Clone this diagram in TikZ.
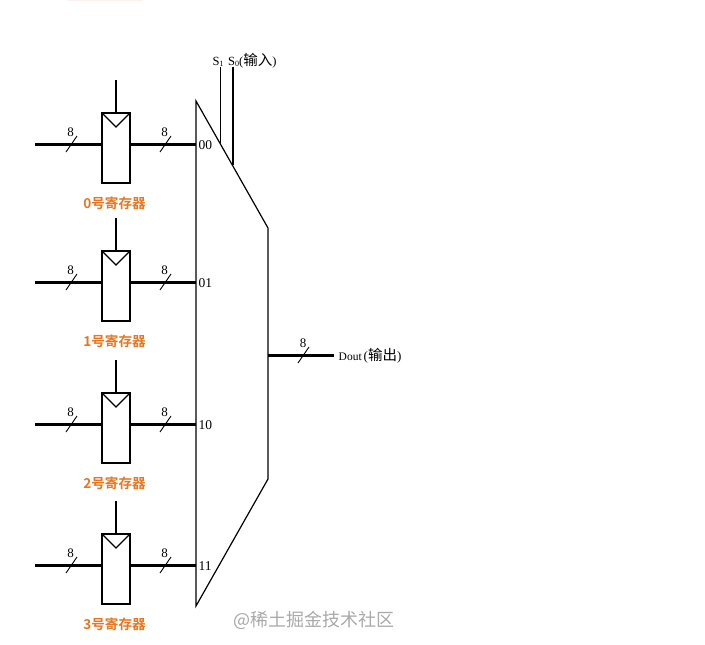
\documentclass[tikz,border=0pt]{standalone}
\usepackage{fontspec}
\setmainfont{Liberation Serif}
\newfontfamily\cjk{Noto Sans CJK SC}
\newfontfamily\cjkb{Noto Sans CJK SC Bold}
\definecolor{regorange}{HTML}{E8761E}
\definecolor{wm}{HTML}{A9A9A9}
\definecolor{faintpink}{HTML}{FFF0F0}
\tikzset{
  regbox/.style={draw,line width=1.2pt,fill=white,minimum width=28pt,minimum height=70pt,inner sep=0pt,outer sep=0pt},
  bus/.style={line width=3pt},
  thin wire/.style={line width=1.2pt},
  slash/.style={line width=0.9pt},
  buslabel/.style={font=\fontsize{13}{13}\selectfont,inner sep=0pt},
  portlabel/.style={font=\fontsize{13.5}{13.5}\selectfont,inner sep=0pt,anchor=west},
  reglabel/.style={font=\fontsize{13.6}{13.6}\selectfont\cjkb,text=regorange,inner sep=0pt},
  siglabel/.style={inner sep=0pt,anchor=west},
}
\newcommand{\regrow}[3]{%
  % #1 index, #2 wire y, #3 port label
  \node[regbox] (r#1) at (116,#2+4) {};
  \coordinate (in#1) at (35,#2);
  \coordinate (clk#1) at (116,#2-64);
  \coordinate (port#1) at (196,#2);
  \draw[bus] (in#1) -- (in#1-|r#1.west);
  \draw[bus] (port#1-|r#1.east) -- (port#1);
  \draw[thin wire] (clk#1) -- (r#1.north);
  \draw[thin wire] (r#1.north west) -- (116,#2-17) -- (r#1.north east);
  \draw[slash] (66,#2+8) -- (77,#2-8);
  \draw[slash] (160,#2+8) -- (171,#2-8);
  \node[buslabel] (wl#1) at (70.5,#2-12) {8};
  \node[buslabel] (wr#1) at (164.5,#2-12) {8};
  \node[portlabel] (pl#1) at (198.5,#2+1) {#3};
  \node[reglabel] (name#1) at (114.5,#2+59.5) {#1号寄存器};
}
\begin{document}
\begin{tikzpicture}[x=1pt,y=-1pt]
\useasboundingbox (0,0) rectangle (705,645);
\fill[faintpink] (68,0) rectangle (143,1.2);
\coordinate (m1) at (196,101);
\coordinate (m2) at (268,228);
\coordinate (m3) at (268,479);
\coordinate (m4) at (196,606);
\coordinate (s1top) at (220.8,67);
\coordinate (s0top) at (233,67);
\coordinate (s1bot) at (220.8,143);
\coordinate (s0bot) at (233,165);
\draw[thin wire] (s1top) -- (s1bot);
\draw[thin wire] (s0top) -- (s0bot);
\regrow{0}{144}{00}
\regrow{1}{282}{01}
\regrow{2}{424}{10}
\regrow{3}{565}{11}
\draw[thin wire,line join=miter] (m1) -- (m2) -- (m3) -- (m4) -- cycle;
\coordinate (outstart) at (268,355);
\coordinate (outend) at (334,355);
\draw[bus] (outstart) -- (outend);
\draw[slash] (298,363) -- (309,347);
\node[buslabel] (wo) at (303,343) {8};
\node[siglabel,font=\fontsize{11.5}{11.5}\selectfont] (dout) at (338.5,356) {Dout\hspace{2pt}{\fontsize{13}{13}\selectfont(}{\cjk\fontsize{14.5}{14.5}\selectfont 输出}{\fontsize{13}{13}\selectfont)}};
\node[siglabel,font=\fontsize{12.5}{12.5}\selectfont] (sel) at (212.5,61) {S\raisebox{-0.5pt}{\fontsize{8}{8}\selectfont 1}\hspace{4.5pt}S\raisebox{-0.5pt}{\fontsize{8}{8}\selectfont 0}({\cjk\fontsize{14.5}{14.5}\selectfont 输入})};
\node[text=wm,font=\fontsize{18}{18}\selectfont\cjk,inner sep=0pt,anchor=west] (wmark) at (233.5,620) {@稀土掘金技术社区};
\end{tikzpicture}
\end{document}
